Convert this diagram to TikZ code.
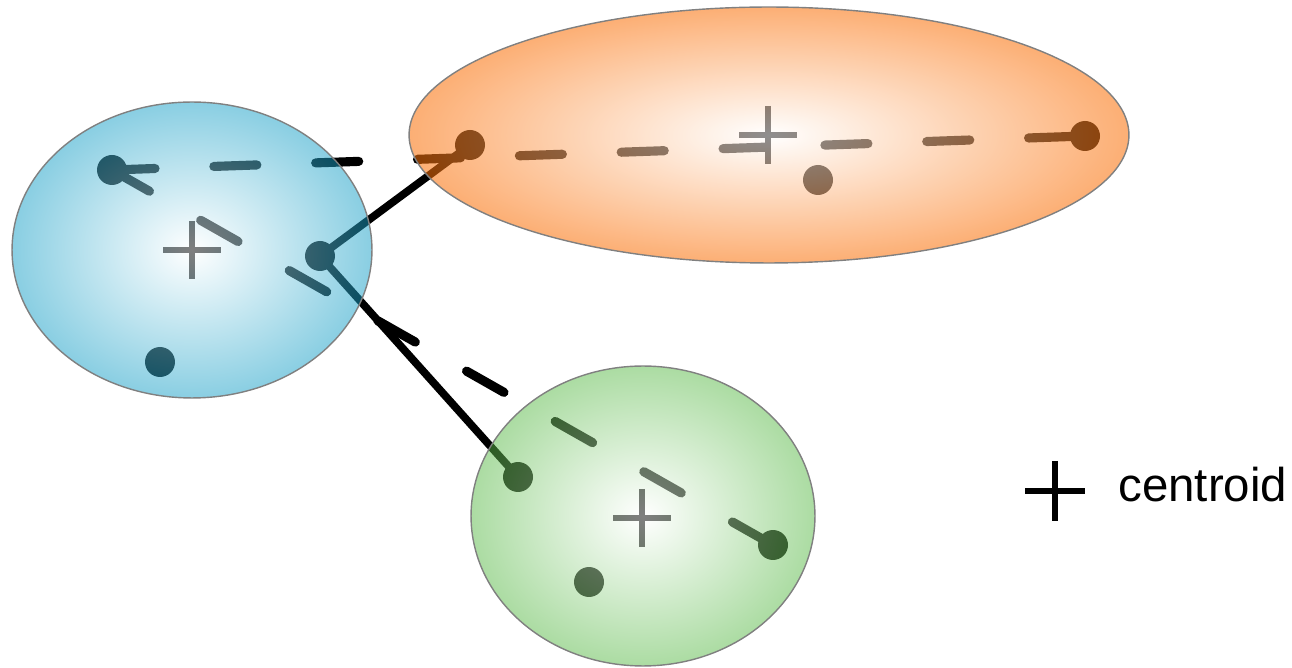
\documentclass[tikz,border=0pt]{standalone}
\usepackage{fontspec}
\setmainfont{Liberation Sans}

\definecolor{clusterblue}{RGB}{20,158,198}
\definecolor{clusterorange}{RGB}{250,112,8}
\definecolor{clustergreen}{RGB}{88,185,70}

\begin{document}
\begin{tikzpicture}[x=0.02cm, y=-0.02cm,
  member/.style={circle, fill=black, inner sep=0pt, minimum size=0.6cm},
  farlink/.style={line width=5.2pt, line cap=round, dash pattern=on 24.5pt off 33.5pt},
  nearlink/.style={line width=4.4pt},
  centre/.style={line width=3.2pt},
  cluster/.style={draw=black!50, line width=0.8pt, inner color=white, fill opacity=0.5}]

\useasboundingbox (0,0) rectangle (1292,668);

\newcommand\R{29}

\node[member] (b1) at (112,170) {};
\node[member] (b2) at (320,256) {};
\node[member] (b3) at (160,362) {};

\node[member] (o1) at (470,145) {};
\node[member] (o2) at (1085,136) {};
\node[member] (o3) at (818,180) {};

\node[member] (g1) at (518,477) {};
\node[member] (g2) at (773,545) {};
\node[member] (g3) at (589,582) {};
%%

\draw[farlink] (b1.center) -- (o2.center);
\draw[farlink] (b1.center) -- (g2.center);

\draw[nearlink] (b2.center) -- (o1.center);
\draw[nearlink] (b2.center) -- (g1.center);
%%

\coordinate (cb) at (192,250);
\coordinate (co) at (768,135);
\coordinate (cg) at (642,518);

\draw[centre] (cb) ++(-\R,0) -- ++(2*\R,0) (cb) ++(0,-\R) -- ++(0,2*\R);
\draw[centre] (co) ++(-\R,0) -- ++(2*\R,0) (co) ++(0,-\R) -- ++(0,2*\R);
\draw[centre] (cg) ++(-\R,0) -- ++(2*\R,0) (cg) ++(0,-\R) -- ++(0,2*\R);
%%

\shadedraw[cluster, outer color=clusterblue] (192,250) ellipse [x radius=3.6cm, y radius=2.96cm];
\shadedraw[cluster, outer color=clusterorange, fill opacity=0.56] (769,135) ellipse [x radius=7.2cm, y radius=2.56cm];
\shadedraw[cluster, outer color=clustergreen] (643,516) ellipse [x radius=3.44cm, y radius=3.0cm];
%%

\coordinate (key) at (1055,491);
\draw[line width=3.6pt] (key) ++(-30,0) -- ++(60,0) (key) ++(0,-30) -- ++(0,60);
\node[anchor=base west, inner sep=0pt, font=\fontsize{27}{32}\selectfont] (keytext) at (1118,502) {centroid};

\end{tikzpicture}
\end{document}
